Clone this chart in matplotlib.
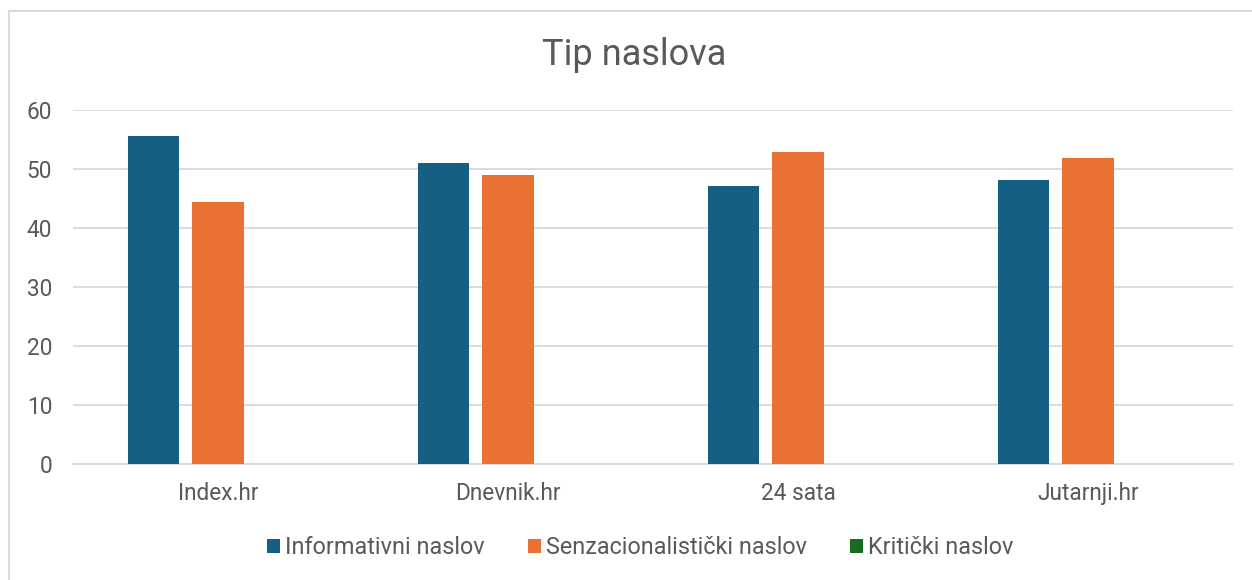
import numpy as np
import matplotlib.pyplot as plt
from matplotlib.patches import Rectangle

# podaci (postotci) po portalu
portali = ["Index.hr", "Dnevnik.hr", "24 sata", "Jutarnji.hr"]
informativni = [55.6, 51.0, 47.2, 48.1]
senzacionalisticki = [44.4, 49.0, 52.8, 51.9]
kriticki = [0, 0, 0, 0]
serije = ["Informativni naslov", "Senzacionalistički naslov", "Kritički naslov"]
boje = ["#156082", "#E97132", "#196B24"]

plt.rcParams['font.family'] = ['Roboto', 'DejaVu Sans']
tekst = "#595959"

fig = plt.figure(figsize=(12.52, 5.8), dpi=100)
W, H = 1252, 580
ax = fig.add_axes([73 / W, (H - 464) / H, 1160 / W, 354 / H])

# okvir grafikona
fig.patches.append(Rectangle((9 / W, -0.1), 1.2, (H - 11) / H + 0.1,
                             transform=fig.transFigure, fill=False,
                             edgecolor="#D9D9D9", linewidth=1.5))

x = np.arange(len(portali))
sirina = 0.177
pomak = 0.2224
for i, (vrijednosti, ime) in enumerate(zip([informativni, senzacionalisticki, kriticki], serije)):
    ax.bar(x + (i - 1) * pomak, vrijednosti, sirina, color=boje[i], label=ime, zorder=3)

ax.set_xlim(-0.5, len(portali) - 0.5)
ax.set_ylim(0, 60)
ax.set_yticks(range(0, 61, 10))
ax.set_xticks(x)
ax.set_xticklabels(portali)
ax.grid(axis='y', color="#D9D9D9", linewidth=1.3, zorder=0)
for s in ["top", "right", "left"]:
    ax.spines[s].set_visible(False)
ax.spines["bottom"].set_color("#D9D9D9")
ax.spines["bottom"].set_linewidth(1.3)
ax.tick_params(axis='both', length=0, labelsize=16.3, labelcolor=tekst)
ax.tick_params(axis='x', pad=13)
ax.tick_params(axis='y', pad=15)

fig.text(634 / W, 1 - 55 / H, "Tip naslova", ha='center', va='center',
         fontsize=26, color=tekst)

leg = fig.legend(loc='center', bbox_to_anchor=(640 / W, 1 - 548 / H), ncol=3,
                 frameon=False, fontsize=16.8, handlelength=0.56, handleheight=0.56,
                 handletextpad=0.22, columnspacing=1.85, borderaxespad=0)
for t in leg.get_texts():
    t.set_color(tekst)

plt.savefig("out.png", dpi=100)
